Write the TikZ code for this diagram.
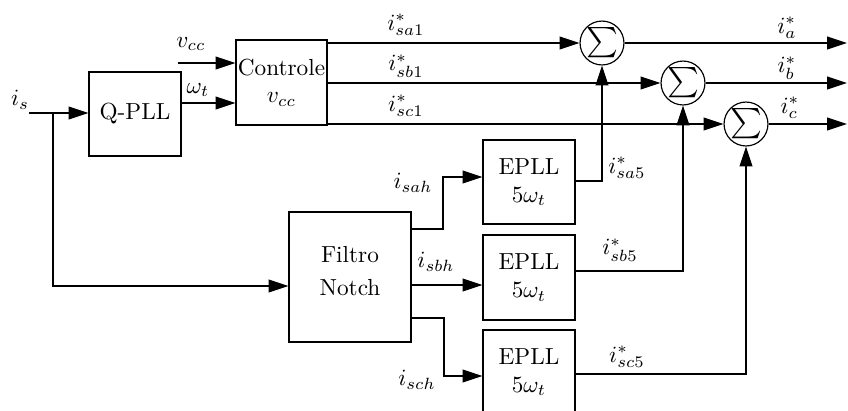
\documentclass[tikz,border=0pt]{standalone}
\usetikzlibrary{arrows.meta,calc}
\begin{document}
\begin{tikzpicture}[x=0.43pt,y=-0.43pt,
  blk/.style={draw,line width=0.5pt,inner sep=0pt,align=center},
  sumnode/.style={draw,circle,line width=0.5pt,inner sep=0pt,minimum size=37*0.43pt},
  arr/.style={-{Triangle[length=8.5pt,width=5.5pt]},line width=0.5pt},
  ln/.style={line width=0.5pt},
  lbl/.style={inner sep=0pt}]
\useasboundingbox (0,0) rectangle (848,410);
\clip (0,0) rectangle (848,410);
% blocks
\node[blk,minimum width=92*0.43pt,minimum height=84*0.43pt] (qpll) at (135,114) {Q-PLL};
\node[blk,minimum width=91*0.43pt,minimum height=85*0.43pt] (ctrl) at (281.5,82.5) {Controle\\[0pt]$v_{cc}$};
\node[blk,minimum width=122*0.43pt,minimum height=130*0.43pt] (filt) at (350,277) {};
\node[lbl,align=center] (filttxt) at (350,271) {Filtro\\[2pt]Notch};
\node[blk,minimum width=92*0.43pt,minimum height=84*0.43pt] (e1) at (529,182) {EPLL\\[0pt]$5\omega_t$};
\node[blk,minimum width=92*0.43pt,minimum height=85*0.43pt] (e2) at (529,277.5) {EPLL\\[0pt]$5\omega_t$};
\node[blk,minimum width=92*0.43pt,minimum height=84*0.43pt] (e3) at (529,372) {EPLL\\[0pt]$5\omega_t$};
% sums
\node[sumnode] (s1) at (602,43) {\scalebox{1.3}{$\sum$}};
\node[sumnode] (s2) at (683,83) {\scalebox{1.3}{$\sum$}};
\node[sumnode] (s3) at (746,124) {\scalebox{1.3}{$\sum$}};
% input
\coordinate (is) at (29,113);
\coordinate (br) at (53,113);
\draw[arr] (is) -- (qpll.west|-is);
\draw[arr] (br) |- ($(filt.west)+(0,9)$);
\coordinate (vin) at (178,63);
\draw[arr] (vin) -- (ctrl.west|-vin);
\coordinate (wy) at (0,103);
\draw[arr] (qpll.east|-wy) -- (ctrl.west|-wy);
% controle outputs
\draw[arr] (ctrl.east|-s1) -- (s1);
\draw[arr] (ctrl.east|-s2) -- (s2);
\draw[arr] (ctrl.east|-s3) -- (s3);
% outputs
\coordinate (oa) at (847,43);
\coordinate (ob) at (847,83);
\coordinate (oc) at (847,124);
\draw[arr] (s1) -- (oa);
\draw[arr] (s2) -- (ob);
\draw[arr] (s3) -- (oc);
% filter to EPLL
\coordinate (ka) at (443,229);
\draw[arr] (filt.east|-ka) -- (ka) |- ($(e1.west)+(0,-5)$);
\coordinate (kb) at (0,285);
\draw[arr] (filt.east|-kb) -- (e2.west|-kb);
\coordinate (kc) at (444,318);
\draw[arr] (filt.east|-kc) -- (kc) |- ($(e3.west)+(0,4)$);
% EPLL to sums
\draw[arr] ($(e1.east)+(0,-1)$) -| (s1.south);
\draw[arr] ($(e2.east)+(0,-6.5)$) -| (s2.south);
\draw[arr] ($(e3.east)+(0,2)$) -| (s3.south);
% labels
\node[lbl] (lis) at (20,100) {$i_s$};
\node[lbl] (lvcc) at (191,44) {$v_{cc}$};
\node[lbl] (lw) at (198,90) {$\omega_t$};
\node[lbl] (la1) at (406,25) {$i^*_{sa1}$};
\node[lbl] (lb1) at (406,66) {$i^*_{sb1}$};
\node[lbl] (lc1) at (406,106) {$i^*_{sc1}$};
\node[lbl] (la) at (787,28) {$i^*_a$};
\node[lbl] (lb) at (787,68) {$i^*_b$};
\node[lbl] (lc) at (790,108) {$i^*_c$};
\node[lbl] (lah) at (413,183) {$i_{sah}$};
\node[lbl] (lbh) at (436,262) {$i_{sbh}$};
\node[lbl] (lch) at (417,380) {$i_{sch}$};
\node[lbl] (la5) at (627,168) {$i^*_{sa5}$};
\node[lbl] (lb5) at (620,250) {$i^*_{sb5}$};
\node[lbl] (lc5) at (627,357) {$i^*_{sc5}$};
\end{tikzpicture}
\end{document}
